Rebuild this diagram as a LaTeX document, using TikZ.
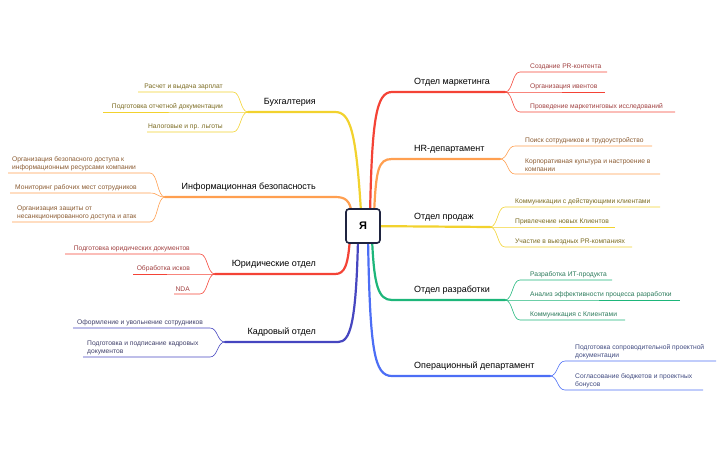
\documentclass[tikz,border=0pt]{standalone}
\usepackage{fontspec}
\setmainfont{Liberation Sans}
\definecolor{cR}{HTML}{F44336}\definecolor{tR}{HTML}{A04040}
\definecolor{cO}{HTML}{FF9F50}\definecolor{tO}{HTML}{8A5A30}
\definecolor{cY}{HTML}{F2D22E}\definecolor{tY}{HTML}{7A6A20}
\definecolor{cG}{HTML}{1DB67A}\definecolor{tG}{HTML}{2A7A5A}
\definecolor{cB}{HTML}{4C6EF5}\definecolor{tB}{HTML}{404A80}
\definecolor{cI}{HTML}{4646C0}\definecolor{tI}{HTML}{40406A}
\definecolor{navy}{HTML}{1F2440}
\tikzset{
 br/.style={font=\fontsize{9}{10}\selectfont, inner sep=0pt, anchor=south west},
 ch/.style={font=\fontsize{6.7}{8.2}\selectfont, inner sep=0pt, align=left},
 main/.style={line width=2.2pt, line cap=round},
 sub/.style={line width=0.6pt},
}
% right child: color, textcolor, splitname, y, endx, name, text
\newcommand{\rch}[7]{%
 \path (#3) ++(15,0) coordinate (#6s);
 \coordinate (#6a) at (#6s |- 0,#4);
 \coordinate (#6e) at (#5,#4);
 \node[ch,text=#2,anchor=south west] (#6) at ([shift={(10,-2)}]#6a) {#7};
 \draw[sub,#1] (#3) .. controls +(8,0) and +(-8,0) .. (#6a) -- (#6e);}
% left child: color, textcolor, splitname, y, startx, name, text
\newcommand{\lch}[7]{%
 \path (#3) ++(-15,0) coordinate (#6s);
 \coordinate (#6a) at (#6s |- 0,#4);
 \coordinate (#6e) at (#5,#4);
 \node[ch,text=#2,anchor=south east] (#6) at ([shift={(-10,-2)}]#6a) {#7};
 \draw[sub,#1] (#3) .. controls +(-8,0) and +(8,0) .. (#6a) -- (#6e);}
\begin{document}
\begin{tikzpicture}[x=1pt,y=-1pt]
\useasboundingbox (0,0) rectangle (724,448);
% centre
\coordinate (c) at (363,226);
% right branches
\coordinate (m0) at (392,92) ;\coordinate (ms) at (505,92);
\coordinate (h0) at (392,159);\coordinate (hs) at (500,159);
\coordinate (p0) at (380,227);\coordinate (ps) at (490,227);
\coordinate (d0) at (392,300);\coordinate (ds) at (505,300);
\coordinate (o0) at (392,376);\coordinate (os) at (550,376);
\draw[main,cR] (370,215) .. controls (372,120) and (376,92) .. (m0) -- (ms);
\draw[main,cO] (374,215) .. controls (376,170) and (378,159) .. (h0) -- (hs);
\draw[main,cY] (c) -- (ps);
\draw[main,cG] (372,238) .. controls (374,285) and (378,300) .. (d0) -- (ds);
\draw[main,cB] (368,238) .. controls (370,350) and (374,376) .. (o0) -- (os);
\node[br] (mk) at (414,87) {Отдел маркетинга};
\node[br] (hr) at (414,154) {HR-департамент};
\node[br] (sl) at (414,222) {Отдел продаж};
\node[br] (dv) at (414,295) {Отдел разработки};
\node[br] (op) at (414,371) {Операционный департамент};
% left branches
\coordinate (b0) at (335,112);\coordinate (bs) at (248,112);
\coordinate (i0) at (335,197);\coordinate (is) at (165,197);
\coordinate (j0) at (335,274);\coordinate (js) at (215,274);
\coordinate (k0) at (338,342);\coordinate (ks) at (225,342);
\draw[main,cY] (361,212) .. controls (356,130) and (350,112) .. (b0) -- (bs);
\draw[main,cO] (352,214) .. controls (350,200) and (345,197) .. (i0) -- (is);
\draw[main,cR] (350,238) .. controls (348,265) and (345,274) .. (j0) -- (js);
\draw[main,cI] (358,240) .. controls (356,325) and (350,342) .. (k0) -- (ks);
\node[br,anchor=south east] (bu) at (316,107) {Бухгалтерия};
\node[br,anchor=south east] (ib) at (316,192) {Информационная безопасность};
\node[br,anchor=south east] (ju) at (316,269) {Юридические отдел};
\node[br,anchor=south east] (kd) at (316,337) {Кадровый отдел};
% centre box
\node[draw=navy, line width=1.6pt, rounded corners=3pt, fill=white, minimum width=34pt, minimum height=34pt, font=\fontsize{11}{12}\selectfont\bfseries] (ya) at (c) {Я};
% right children
\rch{cR}{tR}{ms}{72}{607}{m1}{Создание PR-контента}
\rch{cR}{tR}{ms}{92}{605}{m2}{Организация ивентов}
\rch{cR}{tR}{ms}{112}{675}{m3}{Проведение маркетинговых исследований}
\rch{cO}{tO}{hs}{146}{652}{h1}{Поиск сотрудников и трудоустройство}
\rch{cO}{tO}{hs}{174}{660}{h2}{Корпоративная культура и настроение в\\компании}
\rch{cY}{tY}{ps}{207}{660}{p1}{Коммуникации с действующими клиентами}
\rch{cY}{tY}{ps}{227}{615}{p2}{Привлечение новых Клиентов}
\rch{cY}{tY}{ps}{247}{632}{p3}{Участие в выездных PR-компаниях}
\rch{cG}{tG}{ds}{280}{612}{d1}{Разработка ИТ-продукта}
\rch{cG}{tG}{ds}{300}{680}{d2}{Анализ эффективности процесса разработки}
\rch{cG}{tG}{ds}{320}{625}{d3}{Коммуникация с Клиентами}
\rch{cB}{tB}{os}{361}{716}{o1}{Подготовка сопроводительной проектной\\документации}
\rch{cB}{tB}{os}{390}{703}{o2}{Согласование бюджетов и проектных\\бонусов}
% left children
\lch{cY}{tY}{bs}{92}{138}{b1}{Расчет и выдача зарплат}
\lch{cY}{tY}{bs}{112}{103}{b2}{Подготовка отчетной документации}
\lch{cY}{tY}{bs}{132}{147}{b3}{Налоговые и пр. льготы}
\draw[sub,cO] (is) .. controls +(-8,0) and +(8,0) .. (150,173) -- (8,173);
\draw[sub,cO] (is) .. controls +(-8,0) and +(8,0) .. (150,193) -- (10,193);
\draw[sub,cO] (is) .. controls +(-8,0) and +(8,0) .. (150,222) -- (12,222);
\node[ch,text=tO,anchor=south west] (i1) at (12,171) {Организация безопасного доступа к\\информационным ресурсами компании};
\node[ch,text=tO,anchor=south west] (i2) at (15,191) {Мониторинг рабочих мест сотрудников};
\node[ch,text=tO,anchor=south west] (i3) at (17,220) {Организация защиты от\\несанкционированного доступа и атак};
\lch{cR}{tR}{js}{254}{65}{j1}{Подготовка юридических документов}
\lch{cR}{tR}{js}{274}{133}{j2}{Обработка исков}
\lch{cR}{tR}{js}{294}{174}{j3}{NDA}
\draw[sub,cI] (ks) .. controls +(-8,0) and +(8,0) .. (210,328) -- (73,328);
\draw[sub,cI] (ks) .. controls +(-8,0) and +(8,0) .. (210,357) -- (83,357);
\node[ch,text=tI,anchor=south west] (k1) at (77,326) {Оформление и увольнение сотрудников};
\node[ch,text=tI,anchor=south west] (k2) at (87,355) {Подготовка и подписание кадровых\\документов};
\end{tikzpicture}
\end{document}
